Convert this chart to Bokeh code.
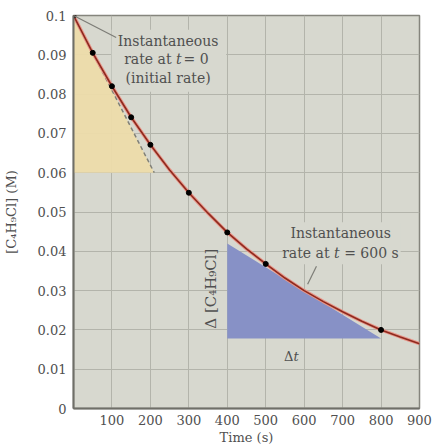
from bokeh.plotting import figure
from bokeh.models import FixedTicker, Label, BoxAnnotation
from bokeh.embed import file_html
from bokeh.resources import INLINE
import math

# ---- data ----
time_pts = [0, 50, 100, 150, 200, 300, 400, 500, 800]
conc_pts = [0.1000, 0.0905, 0.0820, 0.0741, 0.0671, 0.0549, 0.0448, 0.0368, 0.0200]

curve_t = [0, 50, 100, 150, 200, 250, 300, 350, 400, 450, 500, 550, 600, 650, 700, 750, 800, 850, 900]
curve_c = [0.1000, 0.0905, 0.0820, 0.0741, 0.0671, 0.0607, 0.0549, 0.0497, 0.0448, 0.0406,
           0.0368, 0.0332, 0.0300, 0.0272, 0.0246, 0.0222, 0.0200, 0.0182, 0.0165]

tan0_x = [0, 0, 210]
tan0_y = [0.100, 0.060, 0.060]
tan600_x = [400, 400, 800]
tan600_y = [0.0420, 0.0178, 0.0178]

x_ticks = [100, 200, 300, 400, 500, 600, 700, 800, 900]
y_ticks = [0, 0.01, 0.02, 0.03, 0.04, 0.05, 0.06, 0.07, 0.08, 0.09, 0.1]
y_tick_labels = ["0", "0.01", "0.02", "0.03", "0.04", "0.05", "0.06", "0.07", "0.08", "0.09", "0.1"]

FONT = "'DejaVu Serif', serif"
TXT = "#505050"
BG = "#d7d8cf"

p = figure(width=433, height=447, x_range=(0, 900), y_range=(0, 0.1),
           output_backend="svg", toolbar_location=None,
           min_border_left=72, min_border_right=14, min_border_top=15, min_border_bottom=38)
p.background_fill_color = BG
p.border_fill_color = "white"
p.outline_line_color = "#85857d"
p.outline_line_width = 1.5

p.xaxis.ticker = FixedTicker(ticks=x_ticks)
p.yaxis.ticker = FixedTicker(ticks=y_ticks)
p.yaxis.major_label_overrides = {t: s for t, s in zip(y_ticks, y_tick_labels)}
for ax in (p.xaxis[0], p.yaxis[0]):
    ax.axis_line_color = "#6f6f68"
    ax.axis_line_width = 2
    ax.major_tick_line_color = None
    ax.minor_tick_line_color = None
    ax.major_tick_out = 0
    ax.major_tick_in = 0
    ax.minor_tick_out = 0
    ax.minor_tick_in = 0
    ax.major_label_text_font = FONT
    ax.major_label_text_font_size = "13px"
    ax.major_label_text_color = TXT
    ax.major_label_standoff = 7
    ax.axis_label_text_font = FONT
    ax.axis_label_text_font_size = "13px"
    ax.axis_label_text_color = TXT
    ax.axis_label_text_font_style = "normal"

p.yaxis.axis_label = "[C\u2084H\u2089Cl] (M)"
p.yaxis.axis_label_standoff = 16
p.xaxis.axis_label = "Time (s)"
p.xaxis.axis_label_standoff = 2
p.xaxis.major_label_standoff = 6

p.xgrid.ticker = FixedTicker(ticks=x_ticks)
p.ygrid.ticker = FixedTicker(ticks=y_ticks)
p.grid.grid_line_color = "#b3b4ab"
p.grid.grid_line_width = 1

# text boxes (background patches hiding gridlines)
p.add_layout(BoxAnnotation(left=99, right=397, top=0.0964, bottom=0.0806,
                           fill_color=BG, fill_alpha=1, line_color=None, level="underlay"))
p.add_layout(BoxAnnotation(left=547, right=851, top=0.0474, bottom=0.0367,
                           fill_color=BG, fill_alpha=1, line_color=None, level="underlay"))

# tangent triangles
p.patch(tan0_x, tan0_y, fill_color="#eddcaa", fill_alpha=0.95, line_color=None)
p.patch(tan600_x, tan600_y, fill_color="#8791c6", fill_alpha=1, line_color=None)
p.line([tan0_x[0], tan0_x[2]], [tan0_y[0], tan0_y[2]], line_color="#808078",
       line_width=1.5, line_dash="4 3")

# curve
p.line(curve_t, curve_c, line_color="#e8968a", line_width=3.5)
p.line(curve_t, curve_c, line_color="#8e2a1e", line_width=1.6)
p.scatter(time_pts, conc_pts, size=5, color="black")

# leader lines
p.line([0, 111], [0.1, 0.0944], line_color="#7d7d77", line_width=1.2)
p.line([632, 609], [0.0362, 0.0316], line_color="#7d7d77", line_width=1.2)

def lab(x, y, text, angle=0, style="normal", align="center", size="14px"):
    p.add_layout(Label(x=x, y=y, text=text, text_font=FONT, text_font_size=size,
                       text_color=TXT, text_align=align, text_baseline="middle",
                       angle=angle, text_font_style=style))

# annotation at t = 0
lab(246, 0.0936, "Instantaneous")
lab(255, 0.0890, "rate at", align="right")
lab(274, 0.0890, "t", style="italic")
lab(286, 0.0890, "= 0", align="left")
lab(246, 0.0842, "(initial rate)")

# annotation at t = 600 s
lab(695, 0.0446, "Instantaneous")
lab(666, 0.0395, "rate at", align="right")
lab(685, 0.0395, "t", style="italic")
lab(704, 0.0395, "= 600 s", align="left")

lab(358, 0.0305, "\u0394 [C\u2084H\u2089Cl]", angle=math.pi / 2, size="15px")
lab(572, 0.0133, "\u0394", align="right", size="13px")
lab(572, 0.0133, "t", align="left", style="italic", size="13px")

open("out.html", "w").write(file_html(p, INLINE))
